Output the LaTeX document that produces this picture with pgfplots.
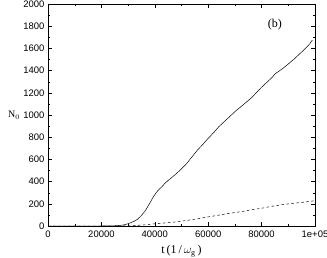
\documentclass[border=0pt]{standalone}
\usepackage{fontspec}
\setmainfont{Liberation Serif}
\newfontfamily\ticksans{Liberation Sans}
\usepackage{pgfplots}
\pgfplotsset{compat=1.18}

\begin{document}
\begin{tikzpicture}
\begin{axis}[
  at={(0,0)}, anchor=south west,
  scale only axis,
  width=267bp, height=222bp,
  xmin=0, xmax=100000,
  ymin=0, ymax=2000,
  xtick={0,20000,40000,60000,80000,100000},
  xticklabels={0,20000,40000,60000,80000,1e+05},
  ytick={0,200,...,2000},
  minor x tick num=1,
  minor y tick num=1,
  scaled ticks=false,
  tick align=inside,
  major tick length=4bp,
  minor tick length=2bp,
  tick style={black, line width=0.4pt},
  axis line style={line width=0.5pt},
  xtick pos=both, ytick pos=both,
  /pgf/number format/assume math mode=true,
  tick label style={font=\ticksans\fontsize{9.5}{10}\selectfont},
  yticklabel style={/pgf/number format/fixed, /pgf/number format/1000 sep={}},
  xticklabel style={yshift=-1.5bp},
  xlabel={t\,(1\,/\,$\omega_{\mathrm{g}}$\,)},
  xlabel style={font=\fontsize{12}{13}\selectfont, yshift=-0.5bp},
  ylabel={N$_0$},
  ylabel style={rotate=-90, font=\fontsize{12.5}{13}\selectfont},
  every axis y label/.style={at={(ticklabel* cs:0.5)}, anchor=center, xshift=-34bp},
  clip=true,
]
\addplot[black, line width=0.5pt] coordinates {
  (0,0) (10000,0) (20000,0) (25000,2) (28000,8) (30000,20) (32000,40)
  (33500,60) (35000,95) (36500,140) (38000,200) (39500,265) (41000,315)
  (42500,350) (44000,390) (46000,430) (48000,470) (50000,515) (52000,565)
  (54000,625) (56000,685) (58000,735) (60000,790) (62000,840) (64000,895)
  (66000,940) (68000,985) (70000,1030) (72000,1070) (74000,1110)
  (76000,1150) (78000,1200) (80000,1250) (82000,1295) (84000,1340)
  (85000,1370) (88000,1420) (90000,1460) (92000,1500) (94000,1545)
  (96000,1590) (98000,1640) (99000,1675)
};
\addplot[black, line width=0.5pt, dash pattern=on 2.5bp off 2.5bp] coordinates {
  (0,0) (28000,0) (32000,3) (36000,10) (40000,20) (44000,28) (48000,37)
  (52000,50) (56000,65) (60000,82) (64000,98) (68000,114) (72000,128)
  (76000,145) (80000,160) (84000,178) (88000,193) (92000,205)
  (96000,215) (100000,228)
};
\node[font=\fontsize{12}{13}\selectfont] at (axis cs:85000,1810) {(b)};
\end{axis}
\pgfresetboundingbox
\useasboundingbox (-48bp,-32bp) rectangle (279bp,226bp);
\end{tikzpicture}
\end{document}
